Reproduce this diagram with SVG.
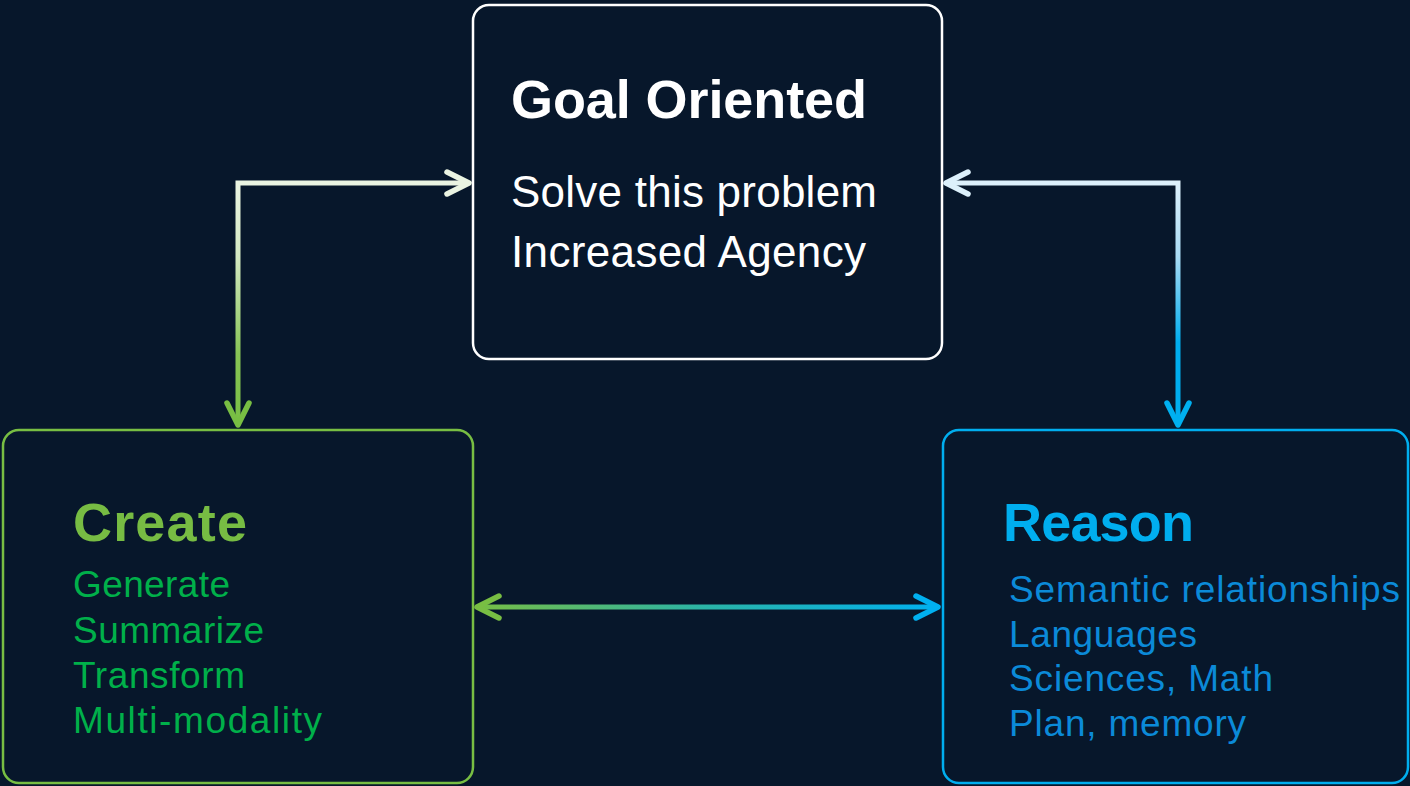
<svg xmlns="http://www.w3.org/2000/svg" width="1410" height="786" viewBox="0 0 1410 786">
<style>
.box{fill:#07172b;stroke-width:2.5}
.title{font-family:"Liberation Sans",Arial,sans-serif;font-weight:bold;font-size:54px}
.body{font-family:"Liberation Sans",Arial,sans-serif;font-size:37px}
.gbody{font-family:"Liberation Sans",Arial,sans-serif;font-size:44px}
.conn{fill:none;stroke-width:5}
.mk{fill:none;stroke-width:5.5;stroke-linecap:round;stroke-linejoin:round}
</style>
<defs>
<linearGradient id="gL" gradientUnits="userSpaceOnUse" x1="0" y1="183" x2="0" y2="428">
<stop offset="0" stop-color="#eaf4e2"/><stop offset="0.3" stop-color="#d4e9c3"/><stop offset="0.7" stop-color="#86c455"/><stop offset="1" stop-color="#78be43"/>
</linearGradient>
<linearGradient id="gR" gradientUnits="userSpaceOnUse" x1="0" y1="183" x2="0" y2="428">
<stop offset="0" stop-color="#dcf0fb"/><stop offset="0.3" stop-color="#a9dbf4"/><stop offset="0.65" stop-color="#00aeef"/><stop offset="1" stop-color="#00aeef"/>
</linearGradient>
<linearGradient id="gH" gradientUnits="userSpaceOnUse" x1="474" y1="0" x2="941" y2="0">
<stop offset="0" stop-color="#78be43"/><stop offset="0.5" stop-color="#2ab4a8"/><stop offset="1" stop-color="#00b0f0"/>
</linearGradient>
<marker id="mGl" markerUnits="userSpaceOnUse" markerWidth="40" markerHeight="40" viewBox="-30 -20 40 40" refX="0" refY="0" orient="auto-start-reverse" overflow="visible"><path class="mk" stroke="#eaf4e2" d="M-22 -11 L0 0 L-22 11"/></marker>
<marker id="mGd" markerUnits="userSpaceOnUse" markerWidth="40" markerHeight="40" viewBox="-30 -20 40 40" refX="0" refY="0" orient="auto-start-reverse" overflow="visible"><path class="mk" stroke="#78be43" d="M-22 -11 L0 0 L-22 11"/></marker>
<marker id="mBl" markerUnits="userSpaceOnUse" markerWidth="40" markerHeight="40" viewBox="-30 -20 40 40" refX="0" refY="0" orient="auto-start-reverse" overflow="visible"><path class="mk" stroke="#dcf0fb" d="M-22 -11 L0 0 L-22 11"/></marker>
<marker id="mBd" markerUnits="userSpaceOnUse" markerWidth="40" markerHeight="40" viewBox="-30 -20 40 40" refX="0" refY="0" orient="auto-start-reverse" overflow="visible"><path class="mk" stroke="#00b0f0" d="M-22 -11 L0 0 L-22 11"/></marker>
</defs>
<rect width="1410" height="786" fill="#07172b"/>
<g id="connectors">
<path class="conn" stroke="url(#gL)" d="M238 425 V183 H469" marker-start="url(#mGd)" marker-end="url(#mGl)"/>
<path class="conn" stroke="url(#gR)" d="M1178 425 V183 H946" marker-start="url(#mBd)" marker-end="url(#mBl)"/>
<path class="conn" stroke="url(#gH)" d="M477 607 H938" marker-start="url(#mGd)" marker-end="url(#mBd)"/>
</g>
<g id="goal">
<rect class="box" x="473" y="5" width="469" height="354" rx="16" stroke="#ffffff"/>
<text class="title" x="511" y="118" fill="#ffffff" textLength="356">Goal Oriented</text>
<text class="gbody" x="511" y="207" fill="#ffffff" textLength="366">Solve this problem</text>
<text class="gbody" x="511" y="267" fill="#ffffff" textLength="355">Increased Agency</text>
</g>
<g id="create">
<rect class="box" x="3" y="430" width="470" height="353" rx="16" stroke="#78be43"/>
<text class="title" x="73" y="541" fill="#77bc43" textLength="174">Create</text>
<g class="body" fill="#00b04a">
<text x="73" y="597" textLength="157">Generate</text>
<text x="73" y="643" textLength="191">Summarize</text>
<text x="73" y="688" textLength="172">Transform</text>
<text x="73" y="733" textLength="249">Multi-modality</text>
</g>
</g>
<g id="reason">
<rect class="box" x="943" y="430" width="465" height="353" rx="16" stroke="#00aeef"/>
<text class="title" x="1003" y="541" fill="#00aeef" textLength="191">Reason</text>
<g class="body" fill="#0b8ad8">
<text x="1009" y="602" textLength="391">Semantic relationships</text>
<text x="1009" y="647" textLength="188">Languages</text>
<text x="1009" y="691" textLength="264">Sciences, Math</text>
<text x="1009" y="736" textLength="237">Plan, memory</text>
</g>
</g>
</svg>
